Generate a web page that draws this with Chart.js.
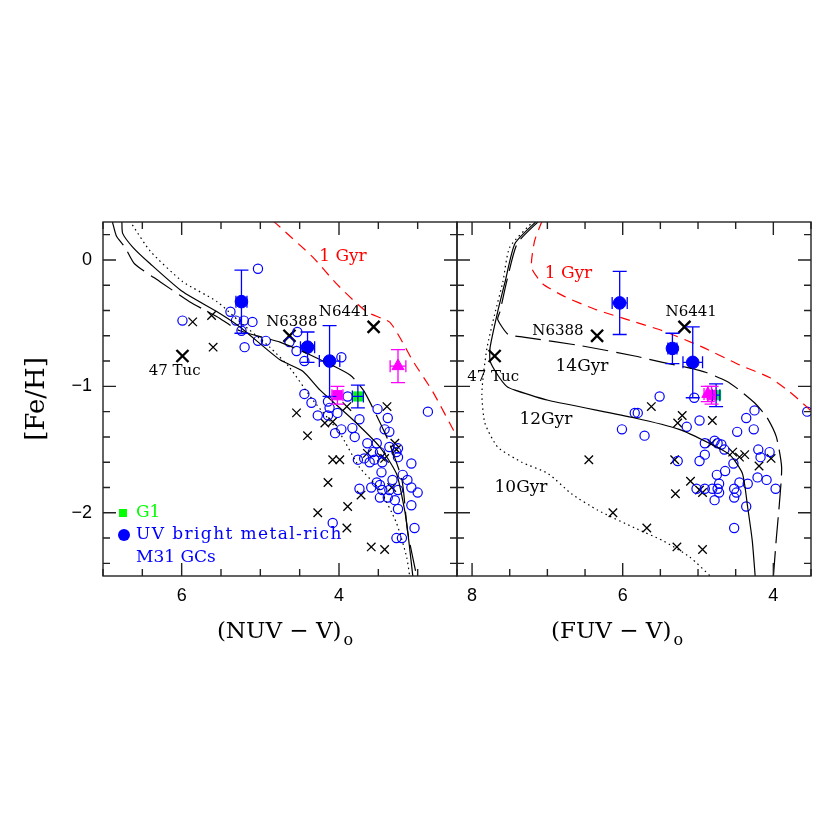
<!DOCTYPE html>
<html>
<head>
<meta charset="utf-8">
<script src="https://cdn.jsdelivr.net/npm/chart.js@4.4.0/dist/chart.umd.min.js"></script>
<style>
  body { margin: 0; background: #fff; }
  #wrap { position: relative; width: 830px; height: 830px; }
  canvas { position: absolute; top: 0; }
  #nuv { left: 0; }
  #fuv { left: 455px; }
</style>
</head>
<body>
<div id="wrap">
  <canvas id="nuv" width="460" height="830"></canvas>
  <canvas id="fuv" width="375" height="830"></canvas>
</div>
<script>
// ---------------- ticks ----------------
const yTicks = [0, -1, -2];
const nuvTicks = [6, 4];
const fuvTicks = [8, 6, 4];

// ---------------- NUV panel ----------------
// model isochrones
const nuv12X = [6.76, 6.75, 6.62, 6.40, 5.99, 5.55, 5.26, 4.75, 4.46, 4.24, 3.83, 3.48, 3.27, 3.19, 3.14, 3.06];
const nuv12Y = [0.31, 0.21, 0.10, -0.03, -0.25, -0.41, -0.53, -0.79, -0.88, -1.03, -1.26, -1.48, -1.69, -1.90, -2.08, -2.51];
const nuv14X = [6.88, 6.83, 6.72, 6.60, 6.28, 5.90, 5.55, 5.26, 4.75, 4.37, 3.86, 3.68, 3.38, 3.20, 3.13, 3.01];
const nuv14Y = [0.30, 0.19, 0.10, -0.03, -0.17, -0.33, -0.45, -0.56, -0.65, -0.75, -0.91, -1.04, -1.42, -1.74, -2.14, -2.51];
const nuv10X = [6.66, 6.64, 6.40, 5.99, 5.55, 5.26, 4.88, 4.63, 4.33, 3.99, 3.74, 3.48, 3.27, 3.14, 3.10];
const nuv10Y = [0.31, 0.29, 0.07, -0.17, -0.33, -0.49, -0.69, -0.85, -1.11, -1.37, -1.64, -1.82, -2.08, -2.35, -2.51];
const nuv1X = [4.84, 4.75, 4.33, 4.03, 3.65, 3.36, 3.23, 3.06, 2.81, 2.50];
const nuv1Y = [0.31, 0.26, 0.02, -0.19, -0.41, -0.49, -0.61, -0.80, -1.04, -1.40];

// M31 GCs (open circles)
const nuvGcX = [5.03, 5.99, 5.38, 5.31, 5.21, 5.10, 5.24, 5.20, 5.03, 4.93, 4.53, 4.63, 4.54, 4.44, 3.97,
  4.44, 4.35, 4.14, 4.12, 4.27, 4.14, 4.02, 4.05, 3.97, 3.83, 3.80, 3.74, 3.89, 3.51, 3.38, 3.42, 3.36,
  2.87, 3.64, 3.52, 3.57, 3.48, 3.25, 3.36, 3.27, 3.25, 3.76, 3.68, 3.55, 3.61, 3.45, 3.46, 3.08, 3.19,
  3.13, 3.32, 3.52, 3.48, 3.59, 3.74, 3.45, 3.36, 3.25, 3.08, 3.00, 3.48, 3.38, 3.29, 3.25, 3.08, 4.08,
  3.04, 3.27, 3.20];
const nuvGcY = [-0.07, -0.48, -0.41, -0.48, -0.48, -0.49, -0.56, -0.69, -0.64, -0.64, -0.57, -0.65, -0.72, -0.80, -0.77,
  -1.06, -1.13, -1.12, -1.17, -1.23, -1.23, -1.21, -1.37, -1.34, -1.33, -1.40, -1.26, -1.08, -1.18, -1.25, -1.34, -1.36,
  -1.20, -1.45, -1.45, -1.52, -1.52, -1.49, -1.48, -1.52, -1.56, -1.58, -1.57, -1.58, -1.60, -1.60, -1.68, -1.61, -1.70,
  -1.74, -1.74, -1.76, -1.78, -1.80, -1.81, -1.82, -1.82, -1.82, -1.80, -1.84, -1.88, -1.88, -1.90, -1.97, -1.94, -2.08,
  -2.12, -2.20, -2.20];

// Galactic GCs (small crosses)
const nuvMwX = [5.86, 5.62, 5.60, 4.54, 4.18, 4.08, 4.40, 3.90, 3.39, 4.08, 3.99, 4.14, 3.72, 3.89, 4.27, 3.90,
  3.59, 3.42, 3.64, 3.46, 3.42, 3.29, 3.27, 3.33];
const nuvMwY = [-0.49, -0.44, -0.69, -1.21, -1.29, -1.28, -1.39, -1.16, -1.16, -1.58, -1.58, -1.76, -1.86, -1.95, -2.00, -2.12,
  -2.27, -2.29, -1.53, -1.56, -1.57, -1.45, -1.50, -1.80];

// named Galactic GCs (big crosses): 47 Tuc, N6388, N6441
const nuvNamedX = [5.99, 4.63, 3.56];
const nuvNamedY = [-0.76, -0.60, -0.53];

// UV bright metal-rich M31 GCs
const nuvBrightX = [5.24, 4.40, 4.12];
const nuvBrightY = [-0.33, -0.69, -0.80];
const nuvBrightXErr = [0.07, 0.09, 0.13];
const nuvBrightYErr = [0.25, 0.12, 0.28];

// G1
const nuvG1X = [3.76];
const nuvG1Y = [-1.08];
const nuvG1XErr = [0.07];
const nuvG1YErr = [0.09];

// magenta objects
const nuvTriX = [3.25];
const nuvTriY = [-0.84];
const nuvTriXErr = [0.10];
const nuvTriYErr = [0.13];
const nuvSqX = [4.02];
const nuvSqY = [-1.07];
const nuvSqXErr = [0.07];
const nuvSqYErr = [0.07];

// ---------------- FUV panel ----------------
const fuv12X = [7.14, 7.43, 7.56, 7.66, 7.76, 7.76, 7.66, 7.54, 7.43, 6.99, 5.84, 5.25, 4.85, 4.58, 4.41, 4.34, 4.28, 4.24];
const fuv12Y = [0.31, 0.13, -0.17, -0.41, -0.69, -0.80, -0.91, -1.00, -1.03, -1.11, -1.25, -1.34, -1.45, -1.54, -1.69, -1.96, -2.22, -2.51];
const fuv14X = [7.11, 7.40, 7.54, 7.63, 7.66, 7.52, 7.32, 6.54, 5.84, 5.47, 5.15, 4.89, 4.62, 4.45, 4.25, 4.09, 3.96, 3.89, 3.92, 3.96, 4.00];
const fuv14Y = [0.31, 0.13, -0.17, -0.41, -0.47, -0.59, -0.61, -0.68, -0.76, -0.81, -0.85, -0.89, -0.96, -1.03, -1.13, -1.24, -1.40, -1.64, -1.93, -2.20, -2.51];
const fuv10X = [7.18, 7.50, 7.59, 7.70, 7.80, 7.85, 7.87, 7.83, 7.66, 7.34, 6.99, 6.68, 6.33, 5.84, 5.47, 5.11, 4.82];
const fuv10Y = [0.31, 0.10, -0.17, -0.43, -0.69, -0.91, -1.07, -1.29, -1.48, -1.60, -1.69, -1.85, -1.98, -2.12, -2.22, -2.35, -2.51];
const fuv1X = [7.07, 7.17, 7.21, 7.06, 6.77, 6.37, 5.84, 5.47, 4.94, 4.45, 4.05, 3.79, 3.56, 3.51];
const fuv1Y = [0.31, 0.15, -0.06, -0.19, -0.29, -0.39, -0.49, -0.56, -0.69, -0.83, -0.93, -1.04, -1.16, -1.19];

const fuvGcX = [6.01, 5.51, 5.84, 5.80, 5.71, 5.27, 5.15, 4.98, 4.98, 4.91, 4.91, 4.78, 4.74, 4.69, 4.65, 4.72,
  4.75, 4.64, 4.81, 4.74, 4.72, 4.78, 5.02, 4.91, 4.53, 4.52, 4.49, 4.52, 4.45, 4.34, 4.36, 4.48, 4.36, 4.26,
  4.25, 4.20, 4.17, 4.05, 4.21, 4.09, 3.97, 3.55, 4.52, 5.05];
const fuvGcY = [-1.34, -1.08, -1.21, -1.21, -1.39, -1.59, -1.32, -1.27, -1.59, -1.45, -1.54, -1.43, -1.45, -1.46, -1.50, -1.77,
  -1.70, -1.67, -1.81, -1.81, -1.84, -1.90, -1.81, -1.81, -1.61, -1.81, -1.84, -1.88, -1.76, -1.77, -1.95, -1.36, -1.25, -1.34,
  -1.19, -1.50, -1.56, -1.52, -1.72, -1.74, -1.81, -1.20, -2.12, -1.09];

const fuvMwX = [6.45, 6.13, 5.62, 5.21, 5.27, 4.81, 4.82, 4.54, 4.45, 4.38, 4.03, 4.19, 5.31, 5.10, 4.98, 4.94,
  5.30, 5.68, 5.28, 4.94];
const fuvMwY = [-1.58, -2.00, -1.16, -1.23, -1.29, -1.27, -1.45, -1.52, -1.56, -1.54, -1.57, -1.63, -1.58, -1.75, -1.82, -1.84,
  -1.85, -2.12, -2.27, -2.29];

const fuvNamedX = [7.70, 6.34, 5.18];
const fuvNamedY = [-0.76, -0.60, -0.53];

const fuvBrightX = [6.04, 5.34, 5.07];
const fuvBrightY = [-0.34, -0.70, -0.81];
const fuvBrightXErr = [0.10, 0.06, 0.13];
const fuvBrightYErr = [0.25, 0.12, 0.28];

const fuvG1X = [4.76];
const fuvG1Y = [-1.07];
const fuvG1XErr = [0.05];
const fuvG1YErr = [0.09];

const fuvTriX = [4.87];
const fuvTriY = [-1.06];
const fuvTriXErr = [0.05];
const fuvTriYErr = [0.06];
const fuvSqX = [4.82];
const fuvSqY = [-1.07];
const fuvSqXErr = [0.05];
const fuvSqYErr = [0.07];

// annotations: text, x, y, colour, font size
const nuvNotes = [
  ['1 Gyr', 3.95, 0.03, '#ff0000', 17],
  ['N6388', 4.60, -0.49, '#000', 15],
  ['N6441', 3.93, -0.41, '#000', 15],
  ['47 Tuc', 6.09, -0.88, '#000', 15]
];
const fuvNotes = [
  ['1 Gyr', 6.72, -0.11, '#ff0000', 17],
  ['N6388', 6.86, -0.56, '#000', 15],
  ['N6441', 5.09, -0.41, '#000', 15],
  ['14Gyr', 6.54, -0.84, '#000', 17],
  ['47 Tuc', 7.72, -0.93, '#000', 15],
  ['12Gyr', 7.02, -1.26, '#000', 17],
  ['10Gyr', 7.35, -1.80, '#000', 17]
];

const BLUE = '#0000ff', GREEN = '#00ff00', MAG = '#ff00ff', RED = '#ff0000';
const SERIF = '"DejaVu Serif", serif';

function pts(xs, ys) {
  return xs.map((x, i) => ({ x: x, y: ys[i] }));
}

function curve(xs, ys, color, dash) {
  return {
    data: pts(xs, ys), showLine: true, borderColor: color, borderWidth: 1.2,
    borderDash: dash, pointRadius: 0, fill: false, tension: 0.2
  };
}

function marks(xs, ys, style, r, fill, stroke, bw) {
  return {
    data: pts(xs, ys), showLine: false, pointStyle: style, pointRadius: r,
    pointBackgroundColor: fill, pointBorderColor: stroke, pointBorderWidth: bw
  };
}

function line(ctx, x1, y1, x2, y2) {
  ctx.moveTo(x1, y1);
  ctx.lineTo(x2, y2);
}

// error bars, notes, frame, inward ticks and axis titles
function decor(cfg) {
  return {
    id: 'decor',
    afterDatasetsDraw(chart) {
      const ctx = chart.ctx, sx = chart.scales.x, sy = chart.scales.y;
      cfg.errors.forEach((e) => {
        ctx.save();
        ctx.strokeStyle = e.color;
        ctx.lineWidth = 1.3;
        ctx.beginPath();
        e.x.forEach((x, i) => {
          const px = sx.getPixelForValue(x), py = sy.getPixelForValue(e.y[i]);
          const y1 = sy.getPixelForValue(e.y[i] + e.ye[i]), y2 = sy.getPixelForValue(e.y[i] - e.ye[i]);
          const x1 = sx.getPixelForValue(x + e.xe[i]), x2 = sx.getPixelForValue(x - e.xe[i]);
          line(ctx, px, y1, px, y2);
          line(ctx, px - 7, y1, px + 7, y1);
          line(ctx, px - 7, y2, px + 7, y2);
          line(ctx, x1, py, x2, py);
          line(ctx, x1, py - 6, x1, py + 6);
          line(ctx, x2, py - 6, x2, py + 6);
        });
        ctx.stroke();
        ctx.restore();
      });
      ctx.save();
      ctx.textAlign = 'center';
      ctx.textBaseline = 'middle';
      cfg.notes.forEach((n) => {
        ctx.font = n[4] + 'px ' + SERIF;
        ctx.fillStyle = n[3];
        ctx.fillText(n[0], sx.getPixelForValue(n[1]), sy.getPixelForValue(n[2]));
      });
      ctx.restore();
    },
    afterDraw(chart) {
      const ctx = chart.ctx, a = chart.chartArea, sx = chart.scales.x, sy = chart.scales.y;
      ctx.save();
      ctx.strokeStyle = '#222';
      ctx.lineWidth = 1.4;
      ctx.strokeRect(a.left, a.top, a.right - a.left, a.bottom - a.top);
      ctx.beginPath();
      for (let k = Math.ceil(sx.min * 2); k <= Math.floor(sx.max * 2); k++) {
        const v = k / 2, p = sx.getPixelForValue(v);
        const len = cfg.xTicks.includes(v) ? 13 : 7;
        line(ctx, p, a.bottom, p, a.bottom - len);
        line(ctx, p, a.top, p, a.top + len);
      }
      for (let k = Math.ceil(sy.min * 5); k <= Math.floor(sy.max * 5); k++) {
        const p = sy.getPixelForValue(k / 5);
        const len = k % 5 === 0 ? 13 : 7;
        line(ctx, a.left, p, a.left + len, p);
        line(ctx, a.right, p, a.right - len, p);
      }
      ctx.stroke();

      ctx.fillStyle = '#000';
      ctx.font = '18px "Liberation Sans", sans-serif';
      ctx.textAlign = 'center';
      ctx.textBaseline = 'middle';
      cfg.xTicks.forEach((v) => ctx.fillText(String(v), sx.getPixelForValue(v), a.bottom + 20));
      if (cfg.yLabels) {
        ctx.textAlign = 'right';
        yTicks.forEach((v) => {
          const s = v < 0 ? '\u2212' + Math.abs(v) : String(v);
          ctx.fillText(s, a.left - 11, sy.getPixelForValue(v));
        });
        // y title
        ctx.save();
        ctx.translate(37, (a.top + a.bottom) / 2);
        ctx.rotate(-Math.PI / 2);
        ctx.textAlign = 'center';
        ctx.font = '26px ' + SERIF;
        ctx.fillText('[Fe/H]', 0, 0);
        ctx.restore();
      }

      // x title with subscript o
      ctx.font = '23px ' + SERIF;
      ctx.textAlign = 'left';
      const main = cfg.title, wm = ctx.measureText(main).width;
      ctx.font = '16px ' + SERIF;
      const ws = ctx.measureText('o').width;
      const x0 = cfg.titleX - (wm + ws + 2) / 2, y0 = a.bottom + 56;
      ctx.font = '23px ' + SERIF;
      ctx.fillText(main, x0, y0);
      ctx.font = '16px ' + SERIF;
      ctx.fillText('o', x0 + wm + 2, y0 + 9);

      if (cfg.legend) {
        const lx = a.left + 20;
        ctx.fillStyle = GREEN;
        ctx.fillRect(lx - 4, a.bottom - 67, 8, 8);
        ctx.fillStyle = BLUE;
        ctx.beginPath();
        ctx.arc(lx + 1, a.bottom - 41, 6, 0, Math.PI * 2);
        ctx.fill();
        ctx.font = '17px ' + SERIF;
        ctx.textAlign = 'left';
        ctx.fillStyle = GREEN;
        ctx.fillText('G1', a.left + 33, a.bottom - 63);
        ctx.fillStyle = BLUE;
        ctx.letterSpacing = '1.4px';
        ctx.fillText('UV bright metal-rich', a.left + 33, a.bottom - 41);
        ctx.letterSpacing = '0px';
        ctx.fillText('M31 GCs', a.left + 33, a.bottom - 18);
      }
      ctx.restore();
    }
  };
}

function panelSets(p) {
  return [
    curve(p.c12x, p.c12y, '#000', []),
    curve(p.c14x, p.c14y, '#000', [26, 8]),
    curve(p.c10x, p.c10y, '#000', [1.5, 3.5]),
    curve(p.c1x, p.c1y, RED, [10, 7]),
    marks(p.gcx, p.gcy, 'circle', 4.6, 'rgba(0,0,0,0)', BLUE, 1.2),
    marks(p.mwx, p.mwy, 'crossRot', 6, '#000', '#000', 1.3),
    marks(p.nmx, p.nmy, 'crossRot', 8.5, '#000', '#000', 2.4),
    marks(p.sqx, p.sqy, 'rect', 6.5, MAG, MAG, 1),
    marks(p.trx, p.try_, 'triangle', 7, MAG, MAG, 1),
    marks(p.g1x, p.g1y, 'rect', 6.5, GREEN, GREEN, 1),
    marks(p.bx, p.by, 'circle', 6.3, BLUE, BLUE, 1)
  ];
}

function makeChart(id, sets, xmin, xmax, padding, cfg) {
  return new Chart(document.getElementById(id), {
    type: 'scatter',
    data: { datasets: sets },
    options: {
      responsive: false,
      animation: false,
      events: [],
      layout: { padding: padding, autoPadding: false },
      plugins: { legend: { display: false }, tooltip: { enabled: false } },
      scales: {
        x: { type: 'linear', min: xmin, max: xmax, reverse: true, display: false },
        y: { type: 'linear', min: -2.5, max: 0.3, display: false }
      }
    },
    plugins: [decor(cfg)]
  });
}

makeChart('nuv', panelSets({
  c12x: nuv12X, c12y: nuv12Y, c14x: nuv14X, c14y: nuv14Y, c10x: nuv10X, c10y: nuv10Y, c1x: nuv1X, c1y: nuv1Y,
  gcx: nuvGcX, gcy: nuvGcY, mwx: nuvMwX, mwy: nuvMwY, nmx: nuvNamedX, nmy: nuvNamedY,
  sqx: nuvSqX, sqy: nuvSqY, trx: nuvTriX, try_: nuvTriY, g1x: nuvG1X, g1y: nuvG1Y, bx: nuvBrightX, by: nuvBrightY
}), 2.5, 7, { left: 103, right: 3, top: 222, bottom: 254 }, {
  xTicks: nuvTicks, yLabels: true, legend: true, title: '(NUV \u2212 V)', titleX: 285, notes: nuvNotes,
  errors: [
    { x: nuvBrightX, y: nuvBrightY, xe: nuvBrightXErr, ye: nuvBrightYErr, color: BLUE },
    { x: nuvG1X, y: nuvG1Y, xe: nuvG1XErr, ye: nuvG1YErr, color: BLUE },
    { x: nuvTriX, y: nuvTriY, xe: nuvTriXErr, ye: nuvTriYErr, color: MAG },
    { x: nuvSqX, y: nuvSqY, xe: nuvSqXErr, ye: nuvSqYErr, color: MAG }
  ]
});

makeChart('fuv', panelSets({
  c12x: fuv12X, c12y: fuv12Y, c14x: fuv14X, c14y: fuv14Y, c10x: fuv10X, c10y: fuv10Y, c1x: fuv1X, c1y: fuv1Y,
  gcx: fuvGcX, gcy: fuvGcY, mwx: fuvMwX, mwy: fuvMwY, nmx: fuvNamedX, nmy: fuvNamedY,
  sqx: fuvSqX, sqy: fuvSqY, trx: fuvTriX, try_: fuvTriY, g1x: fuvG1X, g1y: fuvG1Y, bx: fuvBrightX, by: fuvBrightY
}), 3.5, 8.2, { left: 2, right: 19, top: 222, bottom: 254 }, {
  xTicks: fuvTicks, yLabels: false, legend: false, title: '(FUV \u2212 V)', titleX: 617 - 455, notes: fuvNotes,
  errors: [
    { x: fuvBrightX, y: fuvBrightY, xe: fuvBrightXErr, ye: fuvBrightYErr, color: BLUE },
    { x: fuvG1X, y: fuvG1Y, xe: fuvG1XErr, ye: fuvG1YErr, color: BLUE },
    { x: fuvTriX, y: fuvTriY, xe: fuvTriXErr, ye: fuvTriYErr, color: MAG },
    { x: fuvSqX, y: fuvSqY, xe: fuvSqXErr, ye: fuvSqYErr, color: MAG }
  ]
});
</script>
</body>
</html>
